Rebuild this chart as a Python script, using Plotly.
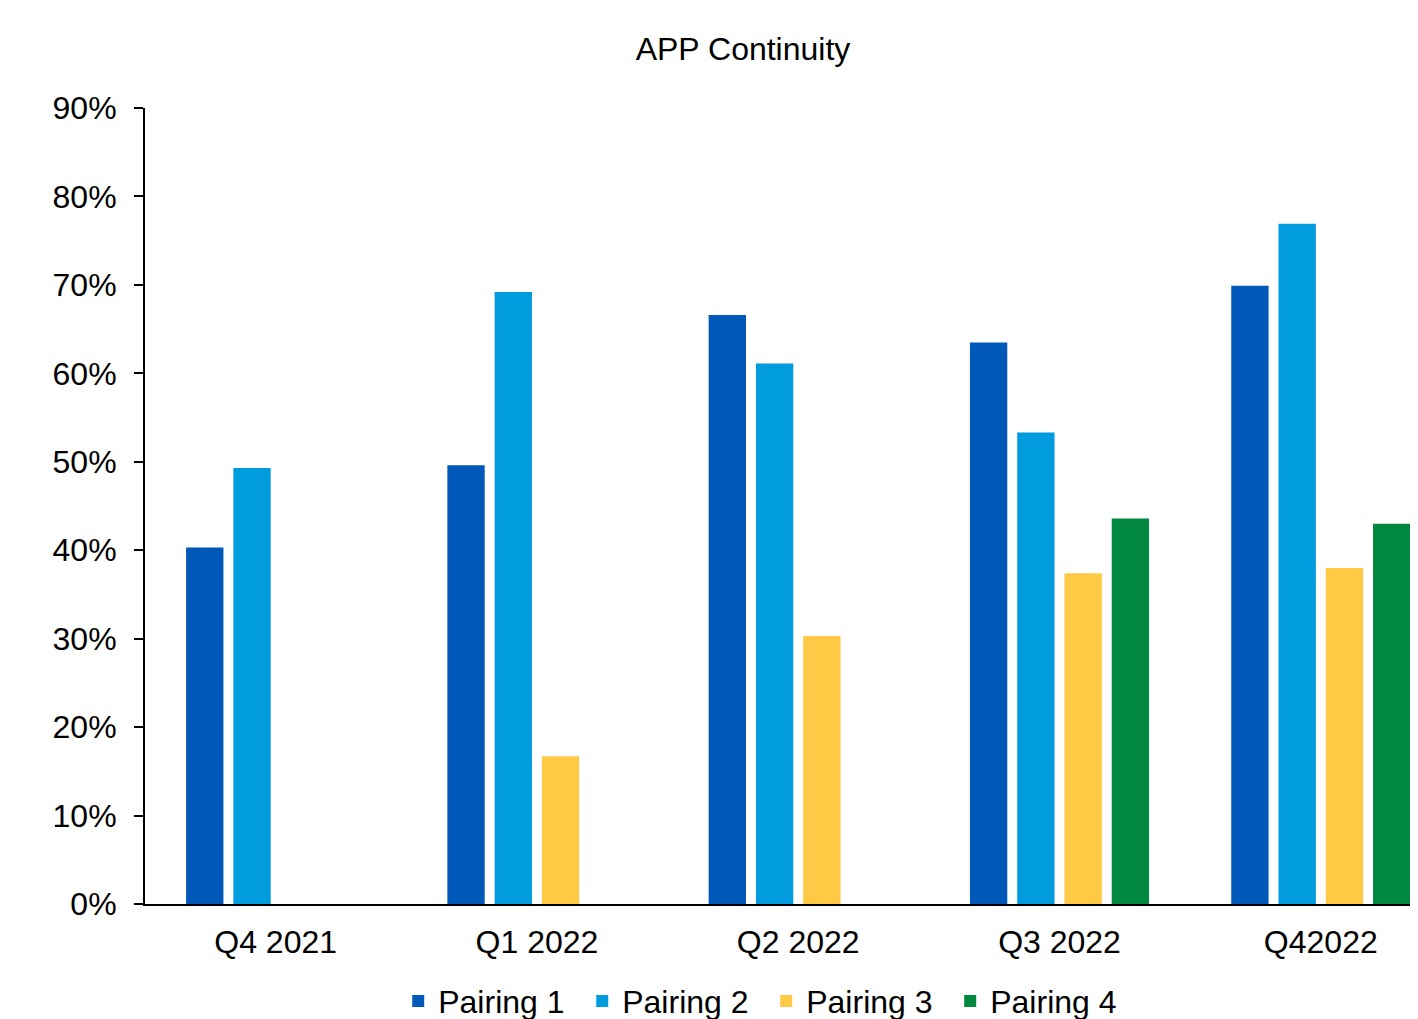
import plotly.graph_objects as go

categories = ["Q4 2021", "Q1 2022", "Q2 2022", "Q3 2022", "Q42022"]
pairing1 = [0.403, 0.496, 0.666, 0.635, 0.699]
pairing2 = [0.493, 0.692, 0.611, 0.533, 0.769]
pairing3 = [None, 0.167, 0.303, 0.374, 0.380]
pairing4 = [None, None, None, 0.436, 0.430]
series_names = ["Pairing 1", "Pairing 2", "Pairing 3", "Pairing 4"]
colors = ["#0059B8", "#009CDE", "#FFC845", "#00883E"]

fig = go.Figure()
for name, vals, col in zip(series_names, [pairing1, pairing2, pairing3, pairing4], colors):
    fig.add_trace(go.Bar(x=categories, y=vals, name=name, marker_color=col,
                         marker_line_width=0))

font = "Arial, Liberation Sans, sans-serif"
W, H = 1410, 1011
fig.update_layout(
    width=W, height=H,
    margin=dict(l=137, r=0, t=100, b=115, autoexpand=False),
    paper_bgcolor="white", plot_bgcolor="white",
    barmode="group", bargap=0.2765, bargroupgap=0.21,
    font=dict(family=font, size=32, color="black"),
    title=dict(text="APP Continuity", x=735/W, xanchor="center",
               y=1-41/H, yanchor="middle", font=dict(size=32, color="black")),
    legend=dict(orientation="h", x=0.488, xanchor="center", y=-0.122, yanchor="middle",
                font=dict(size=32), itemwidth=30, tracegroupgap=0,
                entrywidth=139, entrywidthmode="pixels",
                bgcolor="rgba(0,0,0,0)"),
    showlegend=True,
)
fig.update_xaxes(range=[-0.5, 4.372], showline=True, linecolor="black", linewidth=2,
                 ticks="", showgrid=False, ticklabelstandoff=9, automargin=False,
                 tickfont=dict(size=32))
fig.update_yaxes(range=[0, 0.9], dtick=0.1, tickformat=".0%", showline=True,
                 linecolor="black", linewidth=2, ticks="outside", ticklen=9,
                 tickwidth=2, tickcolor="black", showgrid=False, zeroline=False,
                 ticklabelstandoff=11, automargin=False, tickfont=dict(size=32))
fig.write_html("out.html")
